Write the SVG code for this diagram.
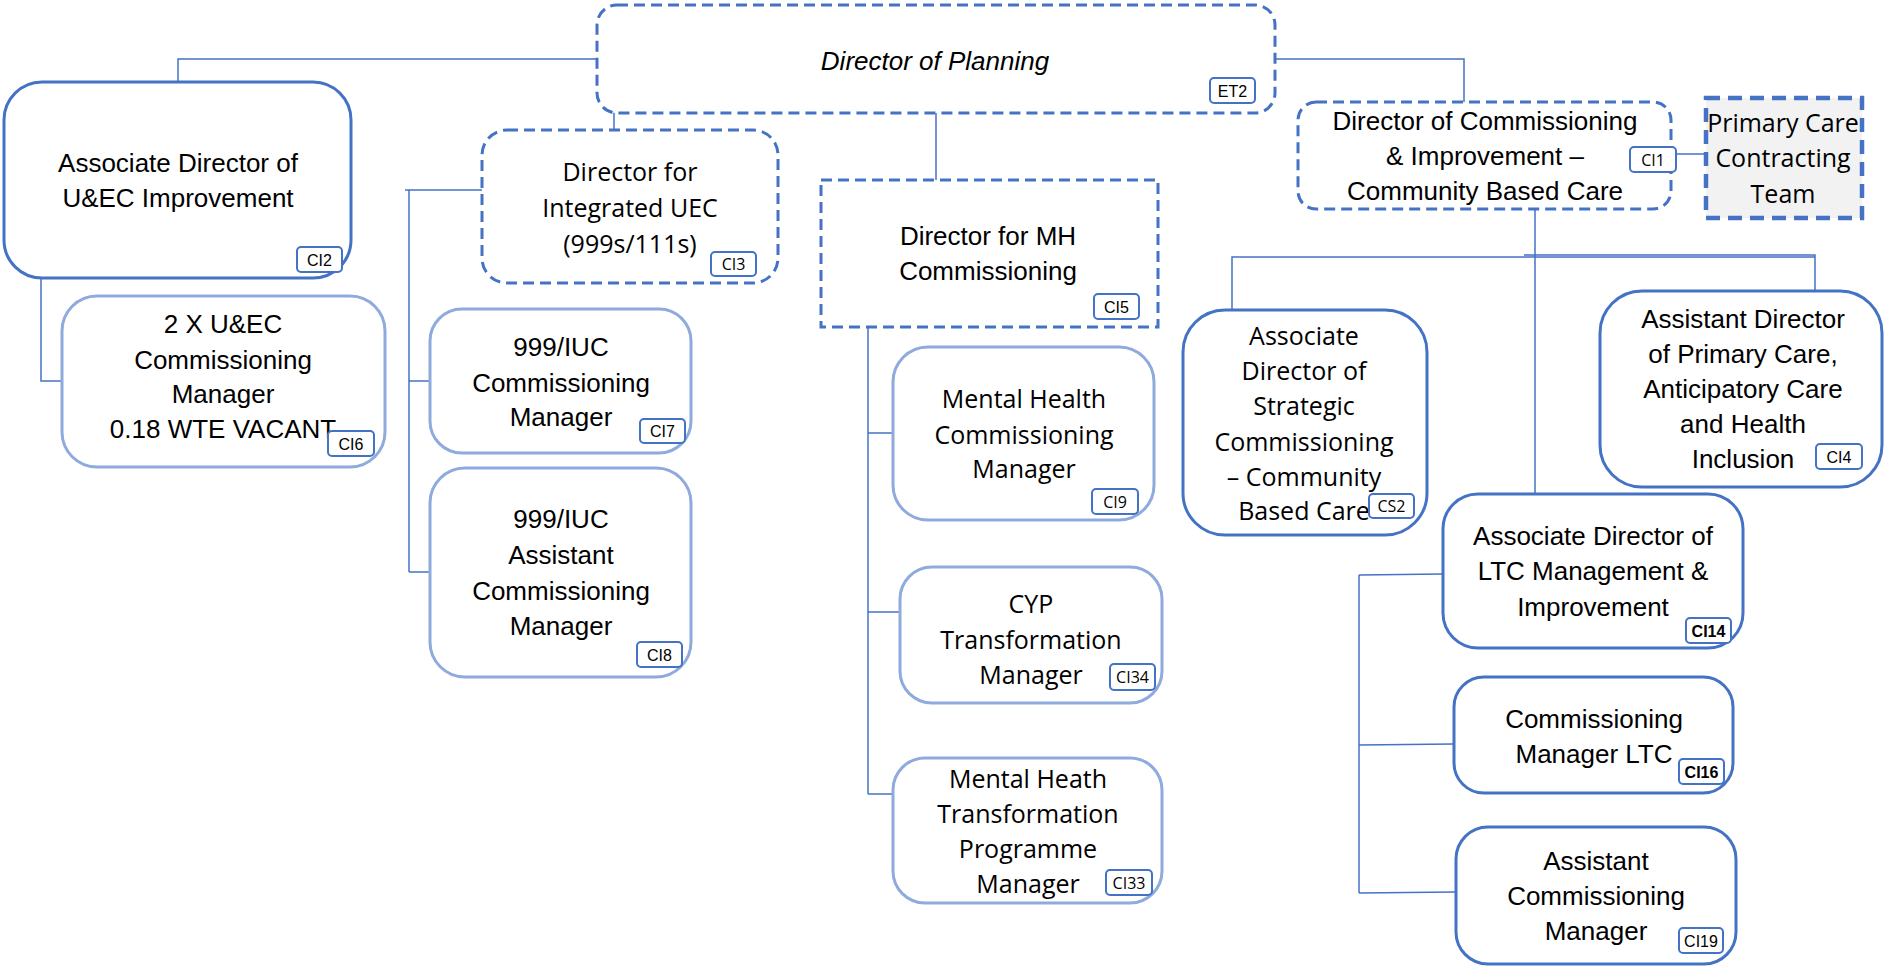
<svg xmlns="http://www.w3.org/2000/svg" width="1884" height="966" viewBox="0 0 1884 966">
<style>
.solid{fill:#fff;stroke:#4472C4;stroke-width:3}
.light{fill:#fff;stroke:#8FAADC;stroke-width:3}
.dash{fill:#fff;stroke:#4472C4;stroke-width:3;stroke-dasharray:11 6}
.pcct{fill:#F2F2F2;stroke:#4472C4;stroke-width:4.5;stroke-dasharray:14 8}
.tag{fill:#fff;stroke:#4472C4;stroke-width:2}
.conn{stroke:#4472C4;stroke-width:1.5;fill:none}
.c{font-family:"Liberation Sans",Arial,sans-serif;font-size:26px;text-anchor:middle;fill:#000}
.s{font-family:"Open Sans","Liberation Sans",sans-serif;font-size:25px;text-anchor:middle;fill:#000}
.tc{font-family:"Liberation Sans",Arial,sans-serif;font-size:16px;text-anchor:middle;fill:#000}
.ts{font-family:"Open Sans","Liberation Sans",sans-serif;font-size:16px;text-anchor:middle;fill:#000}
</style>
<rect width="1884" height="966" fill="#fff"/>
<g id="connectors">
<polyline class="conn" points="597,59 178,59 178,82"/>
<line class="conn" x1="614" y1="110" x2="614" y2="136"/>
<line class="conn" x1="936" y1="113" x2="936" y2="180"/>
<polyline class="conn" points="1275,59 1464,59 1464,102"/>
<polyline class="conn" points="41,278 41,381 62,381"/>
<line class="conn" x1="405" y1="190" x2="482" y2="190"/>
<line class="conn" x1="409" y1="190" x2="409" y2="572"/>
<line class="conn" x1="409" y1="381" x2="430" y2="381"/>
<line class="conn" x1="409" y1="572" x2="430" y2="572"/>
<line class="conn" x1="868" y1="327" x2="868" y2="794"/>
<line class="conn" x1="868" y1="433" x2="893" y2="433"/>
<line class="conn" x1="868" y1="612" x2="900" y2="612"/>
<line class="conn" x1="868" y1="794" x2="893" y2="794"/>
<line class="conn" x1="1535" y1="209" x2="1535" y2="494"/>
<polyline class="conn" points="1232,310 1232,257 1815,257"/>
<polyline class="conn" points="1524,255 1815,255 1815,291"/>
<line class="conn" x1="1676" y1="154" x2="1706" y2="154"/>
<line class="conn" x1="1359" y1="575" x2="1359" y2="893"/>
<line class="conn" x1="1359" y1="575" x2="1443" y2="574"/>
<line class="conn" x1="1359" y1="745" x2="1454" y2="744"/>
<line class="conn" x1="1359" y1="893" x2="1456" y2="892"/>
</g>
<g id="director-planning">
<rect class="dash" x="597" y="5" width="678" height="108" rx="20"/>
<text class="c" x="935" y="70" font-style="italic" font-size="27">Director of Planning</text>
<rect class="tag" x="1210" y="78" width="45" height="25" rx="4"/>
<text class="tc" x="1232.5" y="96.5">ET2</text>
</g>
<g id="ad-uec">
<rect class="solid" x="4" y="82" width="347" height="196" rx="38"/>
<text class="c" x="178" y="172">Associate Director of</text>
<text class="c" x="178" y="207">U&amp;EC Improvement</text>
<rect class="tag" x="297" y="247" width="45" height="25" rx="4"/>
<text class="tc" x="319.5" y="265.5">CI2</text>
</g>
<g id="uec-cm">
<rect class="light" x="62" y="296" width="323" height="171" rx="35"/>
<text class="c" x="223" y="333">2 X U&amp;EC</text>
<text class="c" x="223" y="369">Commissioning</text>
<text class="c" x="223" y="403">Manager</text>
<text class="c" x="223" y="438">0.18 WTE VACANT</text>
<rect class="tag" x="328" y="431" width="46" height="25" rx="4"/>
<text class="tc" x="351" y="449.5">CI6</text>
</g>
<g id="dir-integrated-uec">
<rect class="dash" x="482" y="130" width="296" height="153" rx="25"/>
<text class="s" x="630" y="181">Director for</text>
<text class="s" x="630" y="217">Integrated UEC</text>
<text class="s" x="630" y="253">(999s/111s)</text>
<rect class="tag" x="711" y="252" width="45" height="24" rx="4"/>
<text class="ts" x="733.5" y="269.5">CI3</text>
</g>
<g id="iuc-cm">
<rect class="light" x="430" y="309" width="261" height="144" rx="32"/>
<text class="c" x="561" y="356">999/IUC</text>
<text class="c" x="561" y="392">Commissioning</text>
<text class="c" x="561" y="426">Manager</text>
<rect class="tag" x="640" y="419" width="45" height="24" rx="4"/>
<text class="tc" x="662.5" y="437">CI7</text>
</g>
<g id="iuc-acm">
<rect class="light" x="430" y="468" width="261" height="209" rx="35"/>
<text class="c" x="561" y="528">999/IUC</text>
<text class="c" x="561" y="564">Assistant</text>
<text class="c" x="561" y="600">Commissioning</text>
<text class="c" x="561" y="635">Manager</text>
<rect class="tag" x="637" y="642" width="45" height="25" rx="4"/>
<text class="tc" x="659.5" y="660.5">CI8</text>
</g>
<g id="dir-mh">
<rect class="dash" x="821" y="180" width="337" height="147"/>
<text class="c" x="988" y="245">Director for MH</text>
<text class="c" x="988" y="280">Commissioning</text>
<rect class="tag" x="1094" y="294" width="45" height="25" rx="4"/>
<text class="tc" x="1116.5" y="312.5">CI5</text>
</g>
<g id="mh-cm">
<rect class="light" x="893" y="347" width="261" height="173" rx="35"/>
<text class="s" x="1024" y="408">Mental Health</text>
<text class="s" x="1024" y="444">Commissioning</text>
<text class="s" x="1024" y="478">Manager</text>
<rect class="tag" x="1092" y="489" width="46" height="25" rx="4"/>
<text class="ts" x="1115" y="507.5">CI9</text>
</g>
<g id="cyp">
<rect class="light" x="900" y="567" width="262" height="136" rx="32"/>
<text class="s" x="1031" y="613">CYP</text>
<text class="s" x="1031" y="649">Transformation</text>
<text class="s" x="1031" y="684">Manager</text>
<rect class="tag" x="1110" y="664" width="45" height="26" rx="4"/>
<text class="ts" x="1132.5" y="683">CI34</text>
</g>
<g id="mh-transformation">
<rect class="light" x="893" y="758" width="269" height="145" rx="32"/>
<text class="s" x="1028" y="788">Mental Heath</text>
<text class="s" x="1028" y="823">Transformation</text>
<text class="s" x="1028" y="858">Programme</text>
<text class="s" x="1028" y="893">Manager</text>
<rect class="tag" x="1106" y="870" width="46" height="25" rx="4"/>
<text class="ts" x="1129" y="888.5">CI33</text>
</g>
<g id="dir-commissioning">
<rect class="dash" x="1298" y="102" width="373" height="107" rx="18"/>
<text class="c" x="1485" y="130">Director of Commissioning</text>
<text class="c" x="1485" y="165">&amp; Improvement –</text>
<text class="c" x="1485" y="200">Community Based Care</text>
<rect class="tag" x="1630" y="147" width="46" height="25" rx="4"/>
<text class="ts" x="1653" y="165.5">CI1</text>
</g>
<g id="pcct">
<rect class="pcct" x="1706" y="98" width="156" height="120"/>
<text class="s" x="1783" y="132">Primary Care</text>
<text class="s" x="1783" y="167">Contracting</text>
<text class="s" x="1783" y="203">Team</text>
</g>
<g id="ad-strategic">
<rect class="solid" x="1183" y="310" width="244" height="225" rx="42"/>
<text class="s" x="1304" y="345">Associate</text>
<text class="s" x="1304" y="380">Director of</text>
<text class="s" x="1304" y="415">Strategic</text>
<text class="s" x="1304" y="451">Commissioning</text>
<text class="s" x="1304" y="486">– Community</text>
<text class="s" x="1304" y="520">Based Care</text>
<rect class="tag" x="1369" y="494" width="45" height="24" rx="4"/>
<text class="ts" x="1391.5" y="511.5">CS2</text>
</g>
<g id="ad-primary-care">
<rect class="solid" x="1600" y="291" width="282" height="196" rx="42"/>
<text class="c" x="1743" y="328">Assistant Director</text>
<text class="c" x="1743" y="363">of Primary Care,</text>
<text class="c" x="1743" y="398">Anticipatory Care</text>
<text class="c" x="1743" y="433">and Health</text>
<text class="c" x="1743" y="468">Inclusion</text>
<rect class="tag" x="1816" y="444" width="46" height="25" rx="4"/>
<text class="tc" x="1839" y="462.5">CI4</text>
</g>
<g id="ad-ltc">
<rect class="solid" x="1443" y="494" width="300" height="154" rx="35"/>
<text class="c" x="1593" y="545">Associate Director of</text>
<text class="c" x="1593" y="580">LTC Management &amp;</text>
<text class="c" x="1593" y="616">Improvement</text>
<rect class="tag" x="1686" y="618" width="45" height="25" rx="4"/>
<text class="tc" x="1708.5" y="636.5" font-weight="bold">CI14</text>
</g>
<g id="cm-ltc">
<rect class="solid" x="1454" y="677" width="279" height="116" rx="30"/>
<text class="c" x="1594" y="728">Commissioning</text>
<text class="c" x="1594" y="763">Manager LTC</text>
<rect class="tag" x="1679" y="759" width="45" height="25" rx="4"/>
<text class="tc" x="1701.5" y="777.5" font-weight="bold">CI16</text>
</g>
<g id="acm">
<rect class="solid" x="1456" y="827" width="280" height="137" rx="32"/>
<text class="c" x="1596" y="870">Assistant</text>
<text class="c" x="1596" y="905">Commissioning</text>
<text class="c" x="1596" y="940">Manager</text>
<rect class="tag" x="1679" y="928" width="44" height="25" rx="4"/>
<text class="tc" x="1701" y="946.5">CI19</text>
</g>
</svg>
